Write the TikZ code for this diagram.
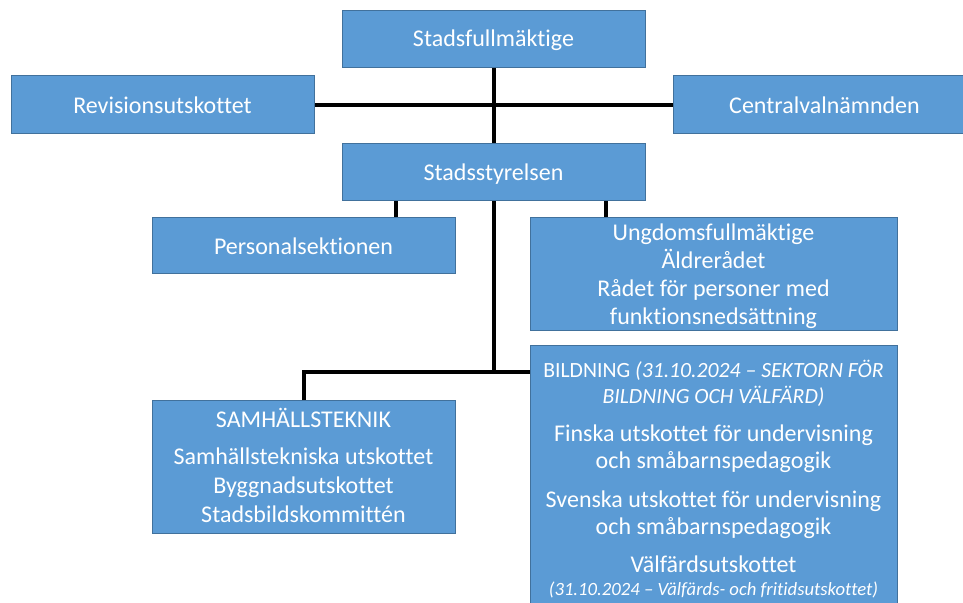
\documentclass[tikz,border=0pt]{standalone}
\usepackage{fontspec}
\setmainfont{Carlito}[Ligatures=NoCommon]
\definecolor{boxfill}{HTML}{5B9BD5}
\definecolor{boxline}{HTML}{41719C}
\begin{document}
\begin{tikzpicture}[x=1pt,y=-1pt,
  box/.style={draw=boxline, fill=boxfill, line width=1pt, inner sep=0pt, anchor=north west},
  txt/.style={text=white, anchor=base, inner sep=0pt, font=\fontsize{24}{28}\selectfont},
  htxt/.style={txt, font=\fontsize{21.7}{26}\selectfont},
  itxt/.style={txt, font=\fontsize{18.7}{22}\selectfont\itshape},
  conn/.style={line width=4pt, black}]
\useasboundingbox (0,0) rectangle (963,602);
% boxes
\node[box, minimum width=303pt, minimum height=57pt] (sf) at (342,10) {};
\node[box, minimum width=303pt, minimum height=58pt] (rev) at (11,75) {};
\node[box, minimum width=303pt, minimum height=58pt] (cv) at (673,75) {};
\node[box, minimum width=303pt, minimum height=57pt] (ss) at (342,143) {};
\node[box, minimum width=303pt, minimum height=56pt] (ps) at (152,217) {};
\node[box, minimum width=367pt, minimum height=113pt] (ung) at (530,217) {};
\node[box, minimum width=303pt, minimum height=133pt] (sam) at (152,400) {};
\node[box, minimum width=367pt, minimum height=270pt] (bil) at (530,345) {};
\coordinate (bj) at ([yshift=-27pt]bil.north west);
% connectors
\draw[conn] (sf.south) -- (ss.north);
\draw[conn] (rev.east) -- (cv.west);
\draw[conn] ([xshift=91.5pt]ps.north) -- ([xshift=91.5pt]ps.north |- ss.south);
\draw[conn] ([xshift=-108.5pt]ung.north) -- ([xshift=-108.5pt]ung.north |- ss.south);
\draw[conn] (ss.south) -- (ss.south |- bj);
\draw[conn] (sam.north) |- (bj);
% texts
\node[txt] (t1) at (493.5,47) {Stadsfullmäktige};
\node[txt] (t2) at (162.5,113) {Revisionsutskottet};
\node[txt] (t3) at (824.5,113) {Centralvalnämnden};
\node[txt] (t4) at (493.5,180) {Stadsstyrelsen};
\node[txt] (t5) at (303.5,254) {Personalsektionen};
\node[txt] (u1) at (713.5,240) {Ungdomsfullmäktige};
\node[txt] (u2) at (713.5,268) {Äldrerådet};
\node[txt] (u3) at (713.5,296) {Rådet för personer med};
\node[txt] (u4) at (713.5,324) {funktionsnedsättning};
\node[txt] (s1) at (303.5,427) {SAMHÄLLSTEKNIK};
\node[txt] (s2) at (303.5,464) {Samhällstekniska utskottet};
\node[txt] (s3) at (303.5,493) {Byggnadsutskottet};
\node[txt] (s4) at (303.5,522) {Stadsbildskommittén};
\node[htxt] (b1) at (713.5,377) {BILDNING \textit{(31.10.2024 – SEKTORN FÖR}};
\node[htxt] (b2) at (713.5,403) {\textit{BILDNING OCH VÄLFÄRD)}};
\node[txt] (b3) at (713.5,441) {Finska utskottet för undervisning};
\node[txt] (b4) at (713.5,468) {och småbarnspedagogik};
\node[txt] (b5) at (713.5,507) {Svenska utskottet för undervisning};
\node[txt] (b6) at (713.5,534) {och småbarnspedagogik};
\node[txt] (b7) at (713.5,572) {Välfärdsutskottet};
\node[itxt] (b8) at (713.5,595) {(31.10.2024 – Välfärds- och fritidsutskottet)};
\end{tikzpicture}
\end{document}
